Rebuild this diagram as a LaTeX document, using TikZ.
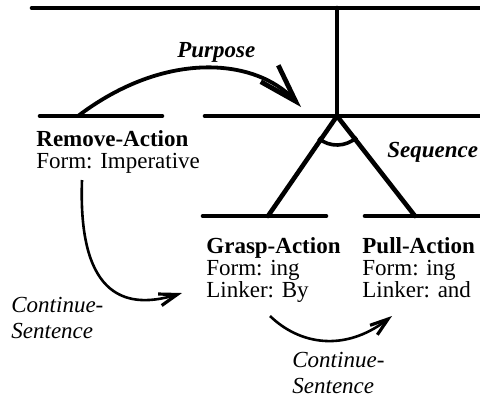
\documentclass[tikz,border=0pt]{standalone}
\usepackage{fontspec}
\setmainfont{Liberation Serif}
\usetikzlibrary{arrows.meta}
\begin{document}
\begin{tikzpicture}[x=0.5pt,y=-0.5pt,
  tree/.style={line width=2.3pt, line cap=round},
  rel/.style={line width=1.9pt, -{Straight Barb[length=19pt,width=12pt,line width=2.4pt]}},
  cont/.style={line width=1.3pt, -{Straight Barb[length=9pt,width=6pt,line width=1.6pt]}},
  txt/.style={inner sep=0pt, anchor=base west, align=left, font=\fontsize{11.5}{11}\selectfont},
  lab/.style={inner sep=0pt, anchor=base west, align=left, font=\fontsize{11.5}{12.7}\selectfont\itshape},
  blab/.style={inner sep=0pt, anchor=base west, font=\fontsize{11.5}{12}\selectfont\bfseries\itshape}]
\useasboundingbox (0,0) rectangle (480,398);
% coordinates
\coordinate (topL) at (32,8);
\coordinate (topR) at (482,8);
\coordinate (apex) at (337,116);
\coordinate (vtop) at (337,8);
\coordinate (remL) at (40,116);
\coordinate (remR) at (162,116);
\coordinate (midL) at (205,116);
\coordinate (midR) at (482,116);
\coordinate (grL) at (203,216);
\coordinate (grR) at (326,216);
\coordinate (puL) at (365,216);
\coordinate (puR) at (482,216);
\coordinate (grJ) at (268,216);
\coordinate (puJ) at (415,216);
\coordinate (purS) at (78,116);
\coordinate (purE) at (301,107);
\coordinate (c1S) at (82,180);
\coordinate (c1E) at (182,293);
\coordinate (c2S) at (270,316);
\coordinate (c2E) at (392,316);
% tree lines
\draw[tree] (topL) -- (topR);
\draw[tree] (vtop) -- (apex);
\draw[tree] (remL) -- (remR);
\draw[tree] (midL) -- (midR);
\draw[tree] (grL) -- (grR);
\draw[tree] (puL) -- (puR);
\draw[tree] (apex) -- (grJ);
\draw[tree] (apex) -- (puJ);
\draw[line width=1.8pt] (apex) ++(130:29) arc[start angle=130, end angle=47, radius=29];
% relations
\draw[rel] (purS) .. controls (165,50) and (255,58) .. (purE);
\draw[cont] (c1S) .. controls (78,290) and (120,312) .. (c1E);
\draw[cont] (c2S) .. controls (300,345) and (345,352) .. (c2E);
% labels
\node[blab] (purpose) at (177,57) {Purpose};
\node[blab] (sequence) at (387,157) {Sequence};
\node[txt] (remove) at (36,168) {\textbf{Remove-Action}\\Form: Imperative};
\node[txt] (grasp) at (206,297) {\textbf{Grasp-Action}\\Form: ing\\Linker: By};
\node[txt] (pull) at (362,297) {\textbf{Pull-Action}\\Form: ing\\Linker: and};
\node[lab] (cs1) at (11,338) {Continue-\\Sentence};
\node[lab] (cs2) at (292,393) {Continue-\\Sentence};
\end{tikzpicture}
\end{document}
